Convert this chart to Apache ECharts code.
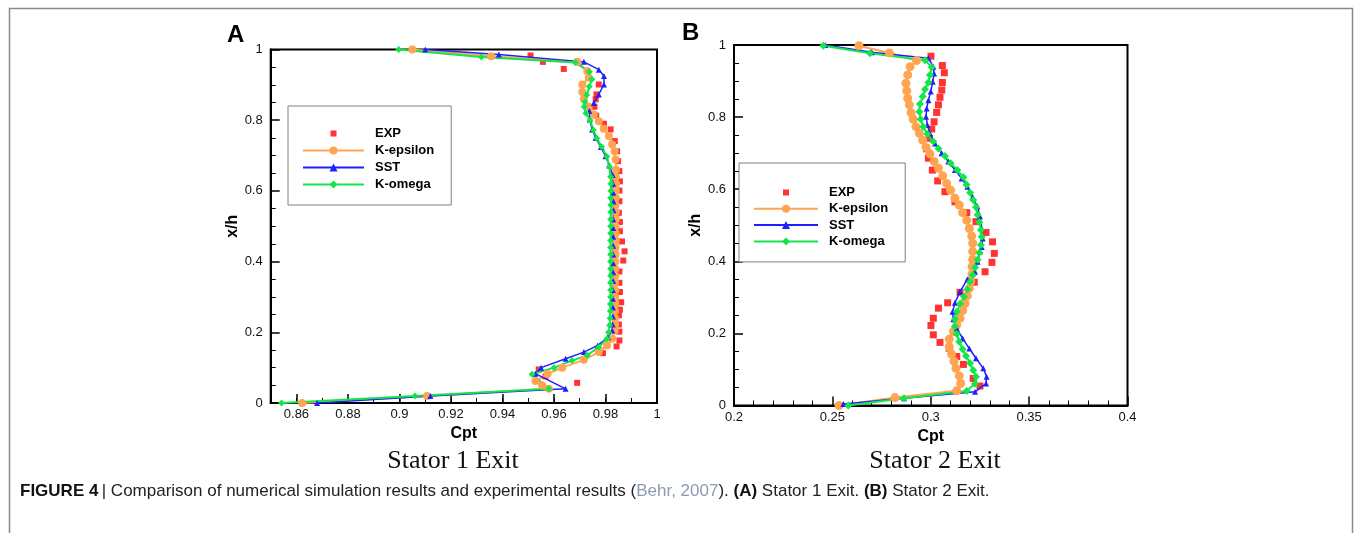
<!DOCTYPE html>
<html>
<head>
<meta charset="utf-8">
<script src="https://cdn.jsdelivr.net/npm/echarts@6/dist/echarts.min.js"></script>
<style>
  html, body { margin: 0; padding: 0; background: #fff; }
  #chart { width: 1355px; height: 533px; }
</style>
</head>
<body>
<div id="chart"></div>
<script>
// ---- Stator 1 exit: [Cpt, x/h] ----
const stator1Exp = [
  [0.9509,0.983],[0.9557,0.965],[0.9638,0.945],[0.9774,0.901],[0.9765,0.873],[0.9762,0.859],
  [0.9757,0.838],[0.9764,0.813],[0.9794,0.790],[0.9820,0.774],[0.9836,0.741],[0.9845,0.712],
  [0.9849,0.684],[0.9854,0.656],[0.9856,0.627],[0.9854,0.601],[0.9854,0.571],[0.9852,0.538],
  [0.9856,0.512],[0.9856,0.486],[0.9864,0.457],[0.9874,0.429],[0.9869,0.403],[0.9854,0.372],
  [0.9854,0.340],[0.9856,0.314],[0.9861,0.285],[0.9856,0.264],[0.9852,0.248],[0.9852,0.222],
  [0.9854,0.202],[0.9854,0.177],[0.9843,0.160],[0.9790,0.141],[0.9541,0.095],[0.9567,0.075],
  [0.9690,0.057]
];
const stator1KEpsilon = [
  [0.9050,1.000],[0.9356,0.981],[0.9690,0.965],[0.9729,0.939],[0.9735,0.920],[0.9710,0.901],
  [0.9710,0.880],[0.9716,0.859],[0.9735,0.838],[0.9755,0.816],[0.9774,0.797],[0.9793,0.776],
  [0.9813,0.755],[0.9826,0.731],[0.9835,0.712],[0.9839,0.689],[0.9841,0.660],[0.9840,0.640],
  [0.9841,0.620],[0.9840,0.600],[0.9840,0.580],[0.9839,0.560],[0.9840,0.540],[0.9840,0.520],
  [0.9839,0.500],[0.9839,0.480],[0.9840,0.460],[0.9839,0.440],[0.9839,0.420],[0.9838,0.400],
  [0.9838,0.380],[0.9838,0.360],[0.9838,0.340],[0.9838,0.320],[0.9838,0.300],[0.9838,0.280],
  [0.9837,0.260],[0.9837,0.240],[0.9837,0.222],[0.9836,0.205],[0.9826,0.182],[0.9806,0.163],
  [0.9774,0.144],[0.9716,0.122],[0.9632,0.100],[0.9575,0.082],[0.9528,0.062],[0.9554,0.050],
  [0.9580,0.040],[0.9107,0.020],[0.8622,0.000]
];
const stator1Sst = [
  [0.9100,1.000],[0.9386,0.986],[0.9716,0.965],[0.9774,0.943],[0.9794,0.925],[0.9794,0.901],
  [0.9774,0.873],[0.9755,0.849],[0.9737,0.826],[0.9739,0.802],[0.9748,0.774],[0.9762,0.750],
  [0.9782,0.724],[0.9800,0.698],[0.9815,0.672],[0.9828,0.645],[0.9830,0.620],[0.9830,0.595],
  [0.9831,0.570],[0.9831,0.545],[0.9830,0.520],[0.9830,0.495],[0.9830,0.470],[0.9830,0.445],
  [0.9830,0.420],[0.9830,0.395],[0.9830,0.370],[0.9830,0.345],[0.9829,0.320],[0.9829,0.295],
  [0.9829,0.270],[0.9829,0.245],[0.9828,0.222],[0.9826,0.205],[0.9810,0.186],[0.9770,0.163],
  [0.9716,0.144],[0.9645,0.125],[0.9550,0.100],[0.9528,0.083],[0.9645,0.040],[0.9120,0.020],
  [0.8680,0.000]
];
const stator1KOmega = [
  [0.8997,1.000],[0.9318,0.979],[0.9683,0.963],[0.9737,0.937],[0.9747,0.916],[0.9737,0.895],
  [0.9727,0.871],[0.9720,0.852],[0.9717,0.838],[0.9724,0.820],[0.9740,0.800],[0.9753,0.772],
  [0.9766,0.749],[0.9785,0.725],[0.9805,0.697],[0.9815,0.668],[0.9820,0.640],[0.9821,0.620],
  [0.9821,0.600],[0.9820,0.580],[0.9821,0.560],[0.9821,0.540],[0.9820,0.520],[0.9820,0.500],
  [0.9820,0.480],[0.9820,0.460],[0.9820,0.440],[0.9820,0.420],[0.9820,0.400],[0.9820,0.380],
  [0.9820,0.360],[0.9820,0.340],[0.9820,0.320],[0.9820,0.300],[0.9819,0.280],[0.9819,0.260],
  [0.9818,0.240],[0.9816,0.220],[0.9812,0.200],[0.9806,0.182],[0.9774,0.158],[0.9729,0.135],
  [0.9670,0.120],[0.9600,0.100],[0.9515,0.081],[0.9580,0.040],[0.9060,0.020],[0.8542,0.000]
];

// ---- Stator 2 exit: [Cpt, x/h] ----
const stator2Exp = [
  [0.3001,0.969],[0.3059,0.943],[0.3069,0.923],[0.3059,0.896],[0.3056,0.875],[0.3047,0.855],
  [0.3039,0.834],[0.3030,0.813],[0.3017,0.787],[0.3005,0.767],[0.2993,0.741],[0.2979,0.712],
  [0.2988,0.686],[0.3008,0.653],[0.3035,0.623],[0.3072,0.593],[0.3123,0.565],[0.3183,0.535],
  [0.3230,0.510],[0.3281,0.480],[0.3314,0.454],[0.3323,0.422],[0.3311,0.397],[0.3276,0.371],
  [0.3221,0.342],[0.3149,0.314],[0.3086,0.285],[0.3039,0.270],[0.3013,0.242],[0.3001,0.222],
  [0.3013,0.196],[0.3047,0.175],[0.3094,0.159],[0.3132,0.136],[0.3166,0.114],[0.3216,0.075],
  [0.3250,0.054]
];
const stator2KEpsilon = [
  [0.2635,0.998],[0.2790,0.978],[0.2928,0.957],[0.2895,0.940],[0.2883,0.917],[0.2874,0.894],
  [0.2878,0.873],[0.2883,0.852],[0.2891,0.834],[0.2900,0.812],[0.2911,0.794],[0.2925,0.773],
  [0.2942,0.755],[0.2959,0.736],[0.2976,0.716],[0.2996,0.698],[0.3017,0.677],[0.3039,0.658],
  [0.3061,0.637],[0.3081,0.616],[0.3101,0.597],[0.3123,0.575],[0.3145,0.556],[0.3162,0.535],
  [0.3183,0.514],[0.3196,0.491],[0.3208,0.470],[0.3213,0.450],[0.3213,0.427],[0.3213,0.405],
  [0.3210,0.385],[0.3210,0.365],[0.3203,0.344],[0.3196,0.325],[0.3186,0.304],[0.3174,0.283],
  [0.3162,0.263],[0.3149,0.242],[0.3132,0.223],[0.3115,0.205],[0.3094,0.184],[0.3094,0.163],
  [0.3106,0.143],[0.3118,0.123],[0.3128,0.103],[0.3145,0.082],[0.3152,0.061],[0.3132,0.041],
  [0.2818,0.022],[0.2534,0.000]
];
const stator2Sst = [
  [0.2463,1.000],[0.2700,0.980],[0.2988,0.963],[0.3013,0.940],[0.3017,0.921],[0.3010,0.898],
  [0.3000,0.871],[0.2988,0.847],[0.2979,0.824],[0.2976,0.801],[0.2983,0.778],[0.2996,0.755],
  [0.3022,0.727],[0.3055,0.700],[0.3089,0.677],[0.3123,0.653],[0.3157,0.630],[0.3186,0.607],
  [0.3213,0.579],[0.3237,0.552],[0.3250,0.524],[0.3259,0.491],[0.3264,0.463],[0.3259,0.440],
  [0.3250,0.427],[0.3238,0.399],[0.3225,0.371],[0.3186,0.350],[0.3149,0.316],[0.3123,0.285],
  [0.3111,0.260],[0.3115,0.239],[0.3132,0.214],[0.3162,0.186],[0.3196,0.158],[0.3230,0.131],
  [0.3267,0.103],[0.3284,0.080],[0.3281,0.061],[0.3225,0.038],[0.2864,0.020],[0.2556,0.004]
];
const stator2KOmega = [
  [0.2454,0.998],[0.2691,0.977],[0.2971,0.958],[0.3005,0.938],[0.2996,0.917],[0.2988,0.896],
  [0.2971,0.877],[0.2959,0.857],[0.2945,0.836],[0.2942,0.815],[0.2949,0.794],[0.2962,0.773],
  [0.2983,0.753],[0.3013,0.732],[0.3039,0.713],[0.3072,0.692],[0.3101,0.672],[0.3135,0.653],
  [0.3166,0.633],[0.3182,0.612],[0.3200,0.590],[0.3216,0.570],[0.3230,0.550],[0.3238,0.529],
  [0.3247,0.508],[0.3255,0.487],[0.3259,0.468],[0.3255,0.445],[0.3247,0.424],[0.3238,0.404],
  [0.3225,0.383],[0.3213,0.362],[0.3200,0.343],[0.3186,0.322],[0.3169,0.302],[0.3149,0.282],
  [0.3132,0.260],[0.3123,0.239],[0.3123,0.219],[0.3132,0.198],[0.3145,0.177],[0.3162,0.156],
  [0.3179,0.137],[0.3200,0.117],[0.3216,0.098],[0.3230,0.080],[0.3225,0.060],[0.3183,0.040],
  [0.2864,0.020],[0.2581,0.000]
];

// ---- axis tick labels ----
const stator1CptLabels = [0.86, 0.88, 0.9, 0.92, 0.94, 0.96, 0.98, 1];
const seriesNames = ['EXP', 'K-epsilon', 'SST', 'K-omega'];

const SANS = '"Liberation Sans", Arial, Helvetica, sans-serif';
const SERIF = '"Liberation Serif", "Times New Roman", serif';
const COLORS = { exp: '#ff0000', keps: '#ffa552', sst: '#1f1fff', komega: '#14e64a' };

const plotA = { left: 270.7, top: 49.5, width: 386.3, height: 353.5 };
const plotB = { left: 734, top: 45, width: 393.5, height: 360.5 };

function frameGrid(r) {
  return Object.assign({ show: true, borderColor: '#000', borderWidth: 2, backgroundColor: 'transparent' }, r);
}

const axisLineStyle = { show: true, lineStyle: { color: '#000', width: 2 } };
const labelStyle = { color: '#111', fontSize: 13, fontFamily: SANS };

function yAxisFor(grid) {
  return {
    type: 'value', gridIndex: grid, min: 0, max: 1, interval: 0.2,
    axisLine: axisLineStyle,
    axisTick: { show: true, inside: true, length: 9, lineStyle: { color: '#000', width: 1.5 } },
    minorTick: { show: true, splitNumber: 4, length: 5, lineStyle: { color: '#000', width: 1 } },
    axisLabel: Object.assign({ margin: 8, showMinLabel: true, showMaxLabel: true }, labelStyle),
    splitLine: { show: false },
    name: 'x/h', nameLocation: 'middle', nameGap: 23,
    nameTextStyle: { fontFamily: SANS, fontSize: 16, fontWeight: 'bold', color: '#000' }
  };
}

function panelSeries(xi, exp, keps, sst, komega, sizes) {
  return [
    { name: seriesNames[0], type: 'scatter', xAxisIndex: xi, yAxisIndex: xi, data: exp,
      symbol: 'rect', symbolSize: sizes.exp, itemStyle: { color: COLORS.exp } },
    { name: seriesNames[1], type: 'line', xAxisIndex: xi, yAxisIndex: xi, data: keps,
      symbol: 'circle', symbolSize: sizes.keps, showAllSymbol: true,
      itemStyle: { color: COLORS.keps }, lineStyle: { color: COLORS.keps, width: 2 } },
    { name: seriesNames[2], type: 'line', xAxisIndex: xi, yAxisIndex: xi, data: sst,
      symbol: 'triangle', symbolSize: sizes.sst, showAllSymbol: true,
      itemStyle: { color: COLORS.sst }, lineStyle: { color: COLORS.sst, width: 1.5 } },
    { name: seriesNames[3], type: 'line', xAxisIndex: xi, yAxisIndex: xi, data: komega,
      symbol: 'diamond', symbolSize: sizes.komega, showAllSymbol: true,
      itemStyle: { color: COLORS.komega }, lineStyle: { color: COLORS.komega, width: 2 } }
  ];
}

function legendAt(left, top, itemWidth, padding, gap) {
  return {
    show: true, orient: 'vertical', left: left, top: top, selectedMode: false,
    itemWidth: itemWidth, itemHeight: 10, itemGap: gap, padding: padding,
    borderColor: '#808080', borderWidth: 1, backgroundColor: '#fff',
    textStyle: { fontFamily: SANS, fontSize: 13, fontWeight: 'bold', color: '#000', padding: [0, 0, 0, 6] },
    data: [{ name: seriesNames[0], icon: 'path://M0,0M10,10M2,2h6v6h-6z' },
           seriesNames[1], seriesNames[2], seriesNames[3]]
  };
}

const chart = echarts.init(document.getElementById('chart'), null, { renderer: 'canvas' });

const option = {
  animation: false,
  backgroundColor: '#fff',
  grid: [
    frameGrid(plotA),
    frameGrid(plotB),
    Object.assign({ show: false }, plotA)   // carries the 0.01 minor ticks of panel A
  ],
  xAxis: [
    {
      type: 'value', gridIndex: 0, min: 0.85, max: 1.0, interval: 0.01,
      axisLine: axisLineStyle,
      axisTick: { show: true, inside: true, length: 9, customValues: stator1CptLabels,
                  lineStyle: { color: '#000', width: 1.5 } },
      axisLabel: Object.assign({ margin: 5, customValues: stator1CptLabels }, labelStyle),
      splitLine: { show: false },
      name: 'Cpt', nameLocation: 'middle', nameGap: 17,
      nameTextStyle: { fontFamily: SANS, fontSize: 16, fontWeight: 'bold', color: '#000' }
    },
    {
      type: 'value', gridIndex: 1, min: 0.2, max: 0.4, interval: 0.05,
      axisLine: axisLineStyle,
      axisTick: { show: true, inside: true, length: 9, lineStyle: { color: '#000', width: 1.5 } },
      minorTick: { show: true, splitNumber: 5, length: 5, lineStyle: { color: '#000', width: 1 } },
      axisLabel: Object.assign({ margin: 5, showMinLabel: true, showMaxLabel: true }, labelStyle),
      splitLine: { show: false },
      name: 'Cpt', nameLocation: 'middle', nameGap: 17,
      nameTextStyle: { fontFamily: SANS, fontSize: 16, fontWeight: 'bold', color: '#000' }
    },
    {
      type: 'value', gridIndex: 2, min: 0.85, max: 1.0, interval: 0.01,
      axisLine: { show: false },
      axisTick: { show: true, inside: true, length: 5, lineStyle: { color: '#000', width: 1 } },
      axisLabel: { show: false },
      splitLine: { show: false }
    }
  ],
  yAxis: [
    yAxisFor(0),
    yAxisFor(1),
    { type: 'value', gridIndex: 2, min: 0, max: 1, show: false }
  ],
  legend: [
    legendAt(288, 106, 61, [21, 17, 14, 14], 4),
    legendAt(739, 163, 64, [23, 17, 14, 14], 3.3)
  ],
  series: [].concat(
    panelSeries(0, stator1Exp, stator1KEpsilon, stator1Sst, stator1KOmega,
                { exp: 6, keps: 8, sst: 6, komega: 7 }),
    panelSeries(1, stator2Exp, stator2KEpsilon, stator2Sst, stator2KOmega,
                { exp: 7, keps: 9, sst: 6, komega: 8 })
  ),
  graphic: [
    { type: 'rect', silent: true, z: 0,
      shape: { x: 9.5, y: 8.5, width: 1343, height: 540 },
      style: { fill: 'none', stroke: '#8a8a8a', lineWidth: 1.5 } },
    { type: 'text', left: 227, top: 23,
      style: { text: 'A', font: 'bold 24px ' + SANS, fill: '#000' } },
    { type: 'text', left: 682, top: 21,
      style: { text: 'B', font: 'bold 24px ' + SANS, fill: '#000' } },
    { type: 'text', x: 453, y: 461,
      style: { text: 'Stator 1 Exit', font: '26px ' + SERIF, fill: '#111', align: 'center', verticalAlign: 'middle' } },
    { type: 'text', x: 935, y: 461,
      style: { text: 'Stator 2 Exit', font: '26px ' + SERIF, fill: '#111', align: 'center', verticalAlign: 'middle' } },
    { type: 'text', x: 20, y: 491,
      style: {
        text: '{b|FIGURE 4} {n|| Comparison of numerical simulation results and experimental results (}{l|Behr, 2007}{n|). }{b|(A)}{n| Stator 1 Exit. }{b|(B)}{n| Stator 2 Exit.}',
        verticalAlign: 'middle', align: 'left',
        rich: {
          b: { fontFamily: SANS, fontSize: 17, fontWeight: 'bold', fill: '#111' },
          n: { fontFamily: SANS, fontSize: 17, fill: '#222' },
          l: { fontFamily: SANS, fontSize: 17, fill: '#8d9cb0' }
        }
      } }
  ]
};

chart.setOption(option);
</script>
</body>
</html>
